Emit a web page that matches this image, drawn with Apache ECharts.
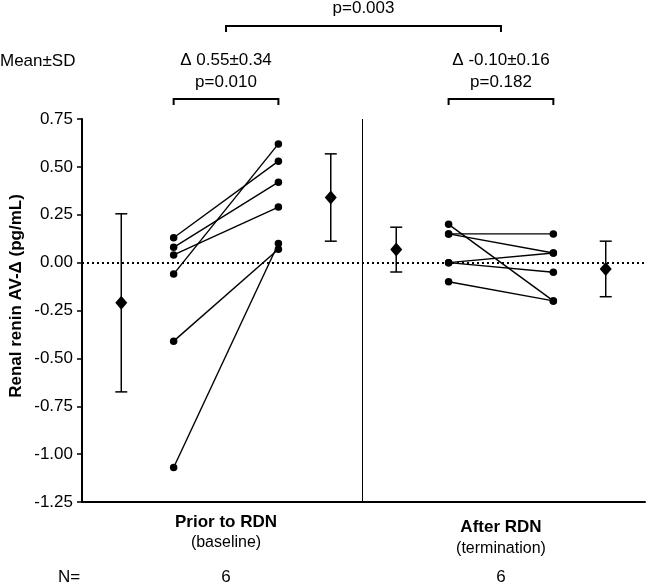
<!DOCTYPE html>
<html>
<head>
<meta charset="utf-8">
<script src="https://cdn.jsdelivr.net/npm/echarts@6/dist/echarts.min.js"></script>
<style>html,body{margin:0;padding:0;background:#fff;}#c{width:646px;height:585px;}</style>
</head>
<body>
<div id="c"></div>
<script>
// ---- data ----
const categories = ['Prior to RDN', 'After RDN'];
const subLabels = ['(baseline)', '(termination)'];
const nLabels = ['6', '6'];
const yTicks = [-1.25, 0.75, 0.25];           // min, max, interval
const priorBefore = [0.13, 0.08, 0.04, -0.06, -0.41, -1.07];
const priorAfter  = [0.53, 0.42, 0.29, 0.62, 0.07, 0.10];
const afterBefore = [0.20, 0.15, 0.15, 0.00, 0.00, -0.10];
const afterAfter  = [-0.20, 0.15, 0.05, 0.05, -0.05, -0.20];
const priorMeans = [-0.21, 0.34];
const priorSDs   = [0.465, 0.228];
const afterMeans = [0.068, -0.033];
const afterSDs   = [0.117, 0.145];
const deltaTexts = ['Δ 0.55±0.34', 'Δ -0.10±0.16'];
const pTexts = ['p=0.010', 'p=0.182'];
const pBetween = 'p=0.003';

// ---- layout (x slots on a unitless axis) ----
const slots = [
  {mean0: 0.75, pre: 1.75, post: 3.75, mean1: 4.75},
  {mean0: 6.0,  pre: 7.0,  post: 9.0,  mean1: 10.0}
];
const dividerX = 5.35;
const FONT = "'Liberation Sans', Arial, Helvetica, sans-serif";

const groups = [
  {before: priorBefore, after: priorAfter, means: priorMeans, sds: priorSDs},
  {before: afterBefore, after: afterAfter, means: afterMeans, sds: afterSDs}
];

const series = [];
groups.forEach((g, gi) => {
  const s = slots[gi];
  g.before.forEach((v, i) => {
    series.push({
      type: 'line', data: [[s.pre, v], [s.post, g.after[i]]],
      symbol: 'circle', symbolSize: 7.5, showSymbol: true,
      itemStyle: {color: '#000', opacity: 1}, lineStyle: {color: '#000', width: 1.4},
      silent: true, z: 3
    });
  });
  const ebData = [[s.mean0, g.means[0], g.sds[0]], [s.mean1, g.means[1], g.sds[1]]];
  series.push({
    type: 'custom', data: ebData, z: 3,
    renderItem: function (params, api) {
      const x = api.value(0), m = api.value(1), sd = api.value(2);
      const top = api.coord([x, m + sd]);
      const bot = api.coord([x, m - sd]);
      const hw = 6;
      const st = {stroke: '#000', lineWidth: 1.5};
      return {type: 'group', children: [
        {type: 'line', shape: {x1: top[0], y1: top[1], x2: bot[0], y2: bot[1]}, style: st},
        {type: 'line', shape: {x1: top[0] - hw, y1: top[1], x2: top[0] + hw, y2: top[1]}, style: st},
        {type: 'line', shape: {x1: bot[0] - hw, y1: bot[1], x2: bot[0] + hw, y2: bot[1]}, style: st}
      ]};
    }
  });
  series.push({
    type: 'scatter', data: ebData.map(d => [d[0], d[1]]),
    symbol: 'diamond', symbolSize: [12, 14], itemStyle: {color: '#000', opacity: 1}, z: 4
  });
});

// reference lines
series.push({
  type: 'line', data: [], silent: true,
  markLine: {
    silent: true, symbol: 'none', label: {show: false}, animation: false,
    data: [
      {yAxis: 0, lineStyle: {type: [2, 3], color: '#000', width: 2}},
      {xAxis: dividerX, lineStyle: {type: 'solid', color: '#000', width: 1}}
    ]
  }
});

const chart = echarts.init(document.getElementById('c'), null, {renderer: 'canvas'});
const option = {
  animation: false,
  backgroundColor: '#fff',
  textStyle: {fontFamily: FONT},
  grid: {left: 82, right: 1, top: 119, bottom: 83},
  xAxis: {
    type: 'value', min: 0, max: 10.75,
    axisLine: {show: true, onZero: false, lineStyle: {color: '#000', width: 2}},
    axisTick: {show: false}, axisLabel: {show: false}, splitLine: {show: false}
  },
  yAxis: {
    type: 'value', min: yTicks[0], max: yTicks[1], interval: yTicks[2],
    axisLine: {show: true, lineStyle: {color: '#000', width: 2}},
    axisTick: {show: true, length: 5, lineStyle: {color: '#000', width: 1.5}},
    axisLabel: {color: '#000', fontSize: 17, fontFamily: FONT, margin: 9,
      formatter: v => v.toFixed(2)},
    splitLine: {show: false}
  },
  series: series
};
chart.setOption(option);

// ---- annotations ----
const gfx = [];
function txt(x, y, t, opts) {
  gfx.push({type: 'text', x: x, y: y, silent: true, style: Object.assign({
    text: t, fill: '#000', font: '16px ' + FONT, textAlign: 'center', textVerticalAlign: 'middle'
  }, opts || {})});
}
function bracket(x1, x2, y, drop) {
  gfx.push({type: 'polyline', silent: true,
    shape: {points: [[x1, y + drop], [x1, y], [x2, y], [x2, y + drop]]},
    style: {stroke: '#000', lineWidth: 2, fill: null}});
}
const centers = [];
slots.forEach((s, gi) => {
  const xa = chart.convertToPixel({gridIndex: 0}, [s.pre, 0])[0];
  const xb = chart.convertToPixel({gridIndex: 0}, [s.post, 0])[0];
  const xc = (xa + xb) / 2;
  centers.push(xc);
  bracket(xa, xb, 99, 6);
  txt(xc, 60, deltaTexts[gi], {font: '17px ' + FONT});
  txt(xc, 82, pTexts[gi], {font: '17px ' + FONT});
  txt(xc, gi === 0 ? 522 : 527, categories[gi], {font: 'bold 17px ' + FONT});
  txt(xc, gi === 0 ? 543 : 549, subLabels[gi], {font: '16px ' + FONT});
  txt(xc, 577, nLabels[gi], {font: '17px ' + FONT});
});
bracket(centers[0], centers[1], 26, 6);
txt((centers[0] + centers[1]) / 2, 8, pBetween, {font: '17px ' + FONT});
txt(0, 61, 'Mean±SD', {font: '17px ' + FONT, textAlign: 'left'});
txt(69, 577, 'N=', {font: '17px ' + FONT});
gfx.push({type: 'text', x: 16, y: 296, rotation: Math.PI / 2, silent: true,
  style: {text: 'Renal renin AV-Δ (pg/mL)', fill: '#000', font: 'bold 17px ' + FONT,
    textAlign: 'center', textVerticalAlign: 'middle'}});
chart.setOption({graphic: gfx});
</script>
</body>
</html>
